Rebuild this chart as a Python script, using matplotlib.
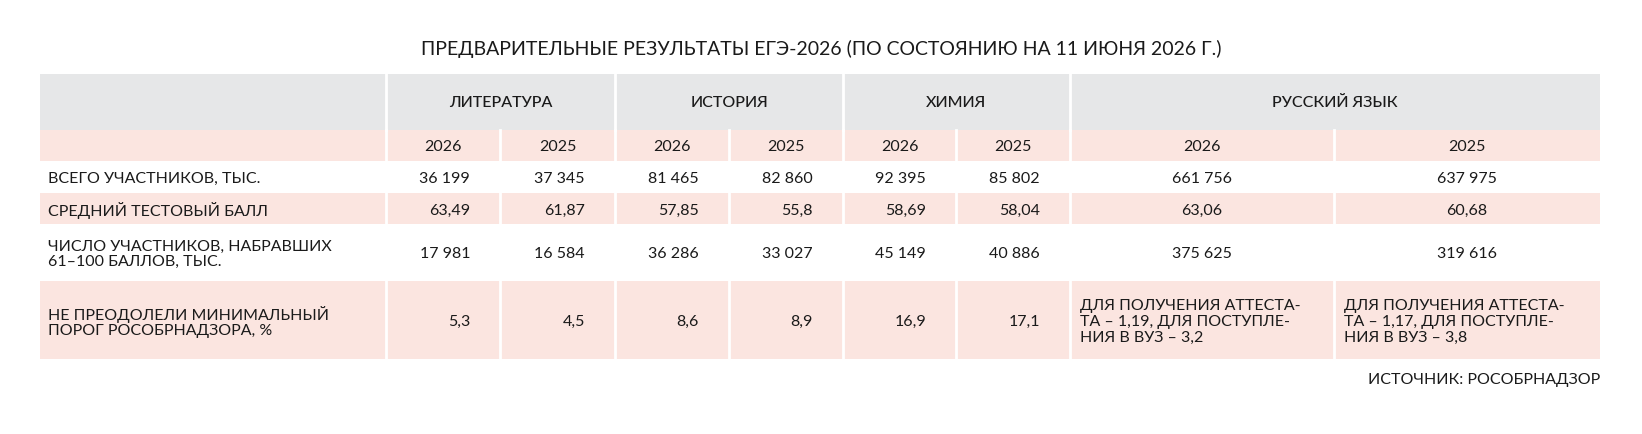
import matplotlib.pyplot as plt
from matplotlib.patches import Rectangle

plt.rcParams['font.family'] = ['Lato', 'DejaVu Sans']

title = 'ПРЕДВАРИТЕЛЬНЫЕ РЕЗУЛЬТАТЫ ЕГЭ-2026 (ПО СОСТОЯНИЮ НА 11 ИЮНЯ 2026 Г.)'
subjects = ['ЛИТЕРАТУРА', 'ИСТОРИЯ', 'ХИМИЯ', 'РУССКИЙ ЯЗЫК']
years = ['2026', '2025']
row_labels = ['ВСЕГО УЧАСТНИКОВ, ТЫС.', 'СРЕДНИЙ ТЕСТОВЫЙ БАЛЛ',
              'ЧИСЛО УЧАСТНИКОВ, НАБРАВШИХ\n61–100 БАЛЛОВ, ТЫС.',
              'НЕ ПРЕОДОЛЕЛИ МИНИМАЛЬНЫЙ\nПОРОГ РОСОБРНАДЗОРА, %']
total = ['36 199', '37 345', '81 465', '82 860', '92 395', '85 802', '661 756', '637 975']
avg_score = ['63,49', '61,87', '57,85', '55,8', '58,69', '58,04', '63,06', '60,68']
high_score = ['17 981', '16 584', '36 286', '33 027', '45 149', '40 886', '375 625', '319 616']
failed = ['5,3', '4,5', '8,6', '8,9', '16,9', '17,1',
          'ДЛЯ ПОЛУЧЕНИЯ АТТЕСТА-\nТА – 1,19, ДЛЯ ПОСТУПЛЕ-\nНИЯ В ВУЗ – 3,2',
          'ДЛЯ ПОЛУЧЕНИЯ АТТЕСТА-\nТА – 1,17, ДЛЯ ПОСТУПЛЕ-\nНИЯ В ВУЗ – 3,8']
source = 'ИСТОЧНИК: РОСОБРНАДЗОР'

W, H = 1642, 435
fig = plt.figure(figsize=(W / 100, H / 100), dpi=100)
ax = fig.add_axes([0, 0, 1, 1])
ax.set_xlim(0, W)
ax.set_ylim(H, 0)
ax.axis('off')

GRAY = '#e6e7e8'
PINK = '#fbe5e0'
TXT = '#1a1a1a'
x_left, x_right = 40, 1600
col_x = [386, 500, 615, 729, 843, 956, 1070, 1334, 1600]
subj_x = [386, 615, 843, 1070, 1600]
rows_y = [75, 131, 162, 194, 225, 282, 360]
fs = 11.5
BODY = 'normal'

def band(y0, y1, color, edges):
    ax.add_patch(Rectangle((x_left, y0), x_right - x_left, y1 - y0, color=color, lw=0))
    for x in edges:
        ax.plot([x, x], [y0, y1], color='white', lw=2)

ax.text(W / 2, 49, title, ha='center', va='center', fontsize=14, color=TXT, fontweight=BODY)

band(rows_y[0], rows_y[1], GRAY, subj_x[:-1])
for i, s in enumerate(subjects):
    ax.text((subj_x[i] + subj_x[i + 1]) / 2, (rows_y[0] + rows_y[1]) / 2, s,
            ha='center', va='center', fontsize=fs, color=TXT, fontweight='medium')

band(rows_y[1], rows_y[2], PINK, col_x[:-1])
for j in range(8):
    ax.text((col_x[j] + col_x[j + 1]) / 2, (rows_y[1] + rows_y[2]) / 2 + 1, years[j % 2],
            ha='center', va='center', fontsize=fs, color=TXT, fontweight=BODY)

data = [total, avg_score, high_score, failed]
for r, vals in enumerate(data):
    y0, y1 = rows_y[r + 2], rows_y[r + 3]
    ym = (y0 + y1) / 2 + 1
    if r % 2 == 1:
        band(y0, y1, PINK, col_x[:-1])
    ax.text(x_left + 8, ym, row_labels[r], ha='left', va='center', fontsize=fs,
            color=TXT, fontweight=BODY, linespacing=1.15)
    for j, v in enumerate(vals):
        if j < 6:
            ax.text(col_x[j + 1] - 30, ym, v, ha='right', va='center', fontsize=fs,
                    color=TXT, fontweight=BODY)
        elif '\n' in v:
            ax.text(col_x[j] + 10, ym, v, ha='left', va='center', fontsize=fs,
                    color=TXT, fontweight=BODY, linespacing=1.15)
        else:
            ax.text((col_x[j] + col_x[j + 1]) / 2, ym, v, ha='center', va='center',
                    fontsize=fs, color=TXT, fontweight=BODY)

ax.text(x_right, 380, source, ha='right', va='center', fontsize=fs, color=TXT, fontweight=BODY)

fig.savefig('out.png', dpi=100)
